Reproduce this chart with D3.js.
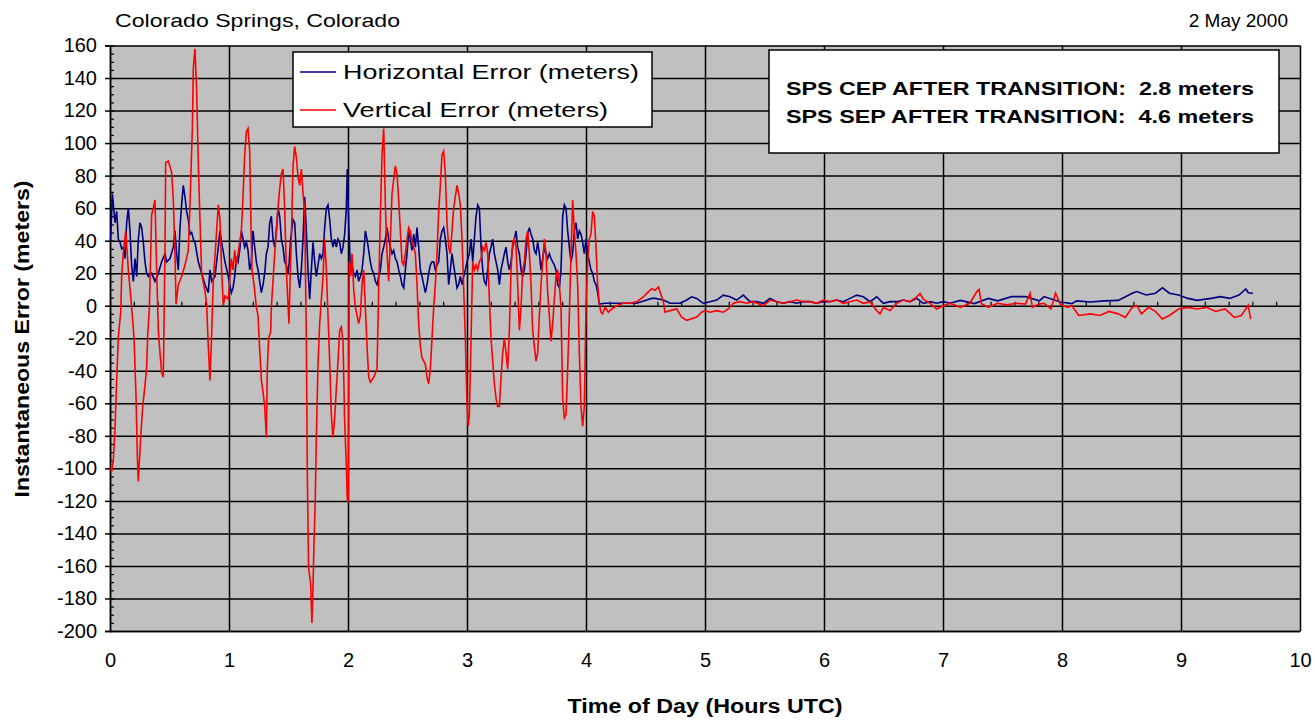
<!DOCTYPE html>
<html><head><meta charset="utf-8">
<script src="https://cdn.jsdelivr.net/npm/d3@7/dist/d3.min.js"></script>
<style>
html,body{margin:0;padding:0;background:#fff;}
svg{display:block;font-family:"Liberation Sans",Arial,sans-serif;}
</style></head>
<body>
<svg id="chart" width="1315" height="720"></svg>
<script>
// ---------------- DATA ----------------
const titleLeft = "Colorado Springs, Colorado";
const titleRight = "2 May 2000";
const xTicks = [0,1,2,3,4,5,6,7,8,9,10];
const yTicks = [160,140,120,100,80,60,40,20,0,-20,-40,-60,-80,-100,-120,-140,-160,-180,-200];
const seriesNames = ["Horizontal Error (meters)", "Vertical Error (meters)"];
const noteLines = ["SPS CEP AFTER TRANSITION:  2.8 meters", "SPS SEP AFTER TRANSITION:  4.6 meters"];

// Horizontal error: time (hours UTC) and value (meters)
const hTime = [0.005,0.020,0.028,0.042,0.056,0.070,0.084,0.098,0.112,0.126,0.140,0.154,0.168,0.182,0.196,0.210,0.224,0.238,0.252,0.266,0.280,0.294,0.308,0.322,0.350,0.378,0.406,0.434,0.462,0.476,0.504,0.532,0.546,0.560,0.574,0.588,0.602,0.616,0.630,0.644,0.658,0.672,0.686,0.700,0.714,0.742,0.770,0.798,0.826,0.840,0.854,0.882,0.910,0.924,0.938,0.966,0.994,
1.006,1.020,1.034,1.048,1.062,1.076,1.090,1.104,1.118,1.132,1.146,1.160,1.174,1.188,1.202,1.216,1.230,1.244,1.258,1.272,1.286,1.300,1.314,1.328,1.342,1.356,1.370,1.384,1.398,1.412,1.426,1.440,1.454,1.468,1.482,1.496,1.504,1.518,1.538,1.552,1.566,1.580,1.594,1.608,1.622,1.636,1.650,1.664,1.678,1.692,1.706,1.720,1.734,1.748,1.762,1.776,1.790,1.804,1.818,1.832,1.846,1.860,1.874,1.888,1.902,1.916,1.930,1.944,1.958,1.972,1.986,1.994,2.006,2.014,
2.020,2.034,2.048,2.062,2.076,2.090,2.104,2.118,2.132,2.146,2.160,2.174,2.188,2.202,2.216,2.230,2.244,2.258,2.272,2.286,2.300,2.314,2.328,2.342,2.356,2.370,2.384,2.398,2.412,2.426,2.440,2.454,2.468,2.482,2.496,2.510,2.524,2.538,2.552,2.566,2.580,2.594,2.608,2.622,2.636,2.650,2.664,2.678,2.692,2.706,2.720,2.734,2.748,2.762,2.776,2.790,2.804,2.818,2.832,2.846,2.860,2.874,2.888,2.902,2.916,2.930,2.944,2.958,2.972,2.986,3.000,
3.020,3.034,3.048,3.062,3.076,3.090,3.104,3.118,3.132,3.146,3.160,3.174,3.188,3.202,3.216,3.230,3.244,3.258,3.272,3.286,3.300,3.314,3.328,3.342,3.356,3.370,3.384,3.398,3.412,3.426,3.440,3.454,3.468,3.482,3.496,3.510,3.524,3.538,3.552,3.566,3.580,3.594,3.608,3.622,3.636,3.650,3.664,3.678,3.692,3.706,3.720,3.734,3.748,3.762,3.776,3.790,3.804,3.818,3.832,3.846,3.860,3.874,3.888,3.902,3.916,3.930,3.944,3.958,3.972,3.986,4.000,4.014,4.028,4.042,4.056,4.070,4.084,4.098,4.112,
4.160,4.258,4.314,4.426,4.510,4.552,4.580,4.650,4.706,4.790,4.846,4.888,4.930,4.986,5.042,5.098,5.154,5.210,5.266,5.322,5.378,5.434,5.490,5.546,5.602,5.658,5.714,5.770,5.826,5.882,5.938,5.994,6.050,6.106,6.162,6.218,6.275,6.331,6.387,6.443,6.499,6.555,6.611,6.667,6.723,6.779,6.835,6.891,6.947,7.003,7.059,
7.147,7.264,7.381,7.459,7.576,7.693,7.810,7.849,7.986,8.083,8.122,8.239,8.356,8.473,8.590,8.629,8.707,8.785,8.844,8.902,8.980,9.058,9.136,9.253,9.331,9.409,9.487,9.545,9.565,9.604];
const hErr = [40,69,62,51,58,41,39,35,36,29,51,60,46,25,15,29,18,41,51,48,39,27,20,18,20,15,20,27,32,27,29,36,46,32,22,48,62,74,67,58,53,44,45,41,39,27,20,13,8,22,15,18,36,46,39,27,18,
13,8,11,18,29,27,34,46,41,36,39,34,22,27,46,36,27,22,15,8,13,20,32,36,51,55,41,36,46,60,55,41,36,27,25,20,25,41,53,51,32,18,11,22,41,67,46,22,4,22,39,27,18,25,32,29,32,48,60,62,53,41,36,41,36,41,39,32,36,44,60,84,50,36,
20,25,20,18,22,15,18,22,32,46,41,34,27,22,20,15,13,18,22,32,36,41,48,41,36,32,34,29,27,22,18,13,11,22,32,46,41,34,44,36,48,36,22,18,13,8,13,20,25,27,27,22,25,27,41,46,48,41,32,13,22,32,25,18,11,13,18,13,18,22,27,
32,41,27,41,55,62,60,36,22,15,13,22,32,36,41,32,27,22,13,22,27,32,36,27,22,27,36,41,46,36,32,22,18,22,32,44,48,44,41,34,32,39,32,22,29,36,32,29,32,29,27,25,22,13,11,22,55,62,60,46,36,27,32,46,51,41,46,44,39,32,41,32,27,22,20,15,13,8,1,
1.5,1.5,1.5,1.5,3.5,4.5,4.5,3.5,1.5,1.5,3.5,5.5,4.5,1.5,2.5,3.5,6.5,5.5,3.5,6.5,2.5,2.5,1.5,4.5,2.5,1.5,2.5,1.5,2.5,2.5,1.5,2.5,2.5,3.5,2.5,4.5,6.5,5.5,2.5,5.5,1.5,2.5,2.5,3.5,2.5,4.5,1.5,2.5,1.5,2.5,1.5,
3.3,1.3,4.5,3,5.6,5.6,3,5.6,2.3,1.3,3,2.3,3,3.3,7.7,8.7,6.6,7.7,11,7.7,6.6,4.5,3.3,4.5,5.6,4.5,6.6,10.3,8,7.7];

// Vertical error: time (hours UTC) and value (meters)
const vTime = [0.005,0.014,0.028,0.042,0.056,0.070,0.090,0.098,0.112,0.132,0.154,0.182,0.202,0.218,0.230,0.238,0.258,0.275,0.294,0.308,0.317,0.331,0.350,0.364,0.378,0.392,0.406,0.420,0.434,0.448,0.462,0.468,0.490,0.518,0.532,0.546,0.555,0.574,0.602,0.630,0.658,0.672,0.692,0.700,0.714,0.728,0.742,0.756,0.770,0.798,0.812,0.826,0.840,0.854,0.868,0.896,0.910,0.924,0.938,0.952,0.966,0.994,1.008,
1.020,1.034,1.048,1.062,1.076,1.104,1.118,1.132,1.146,1.160,1.174,1.182,1.193,1.210,1.230,1.244,1.258,1.272,1.286,1.300,1.314,1.322,1.333,1.350,1.356,1.384,1.412,1.426,1.440,1.454,1.468,1.482,1.496,1.504,1.515,1.524,1.538,1.552,1.566,1.580,1.594,1.608,1.622,1.636,1.650,1.658,1.669,1.686,1.697,1.706,1.714,1.725,1.734,1.748,1.762,1.790,1.804,1.818,1.832,1.846,1.860,1.874,1.888,1.902,1.916,1.930,1.944,1.958,1.972,1.986,1.994,2.003,
2.010,2.020,2.034,2.048,2.062,2.076,2.090,2.104,2.118,2.132,2.160,2.174,2.188,2.216,2.244,2.258,2.272,2.286,2.300,2.314,2.328,2.342,2.356,2.370,2.398,2.412,2.426,2.440,2.454,2.468,2.482,2.496,2.510,2.524,2.538,2.552,2.566,2.580,2.594,2.608,2.622,2.650,2.664,2.678,2.692,2.706,2.720,2.734,2.748,2.762,2.776,2.790,2.804,2.818,2.832,2.846,2.860,2.874,2.888,2.902,2.916,2.930,2.944,2.958,2.972,2.986,3.000,
3.010,3.020,3.034,3.048,3.062,3.076,3.090,3.104,3.118,3.132,3.146,3.160,3.174,3.188,3.202,3.216,3.230,3.244,3.258,3.272,3.286,3.300,3.314,3.328,3.342,3.356,3.370,3.384,3.398,3.412,3.426,3.440,3.454,3.468,3.482,3.496,3.510,3.524,3.538,3.552,3.566,3.580,3.594,3.608,3.622,3.636,3.650,3.664,3.678,3.692,3.706,3.720,3.734,3.748,3.762,3.776,3.790,3.804,3.818,3.832,3.846,3.860,3.874,3.888,3.902,3.916,3.930,3.944,3.958,3.972,3.986,4.000,4.014,4.028,4.042,4.056,4.070,4.084,4.098,4.112,4.126,4.140,
4.160,4.188,4.216,4.258,4.314,4.370,4.426,4.482,4.524,4.552,4.580,4.608,4.627,4.650,4.664,4.706,4.762,4.804,4.846,4.888,4.930,4.972,5.000,5.042,5.098,5.154,5.196,5.238,5.294,5.350,5.406,5.490,5.546,5.602,5.658,5.714,5.770,5.826,5.882,5.938,5.994,6.050,6.106,6.162,6.218,6.275,6.331,6.387,6.443,6.471,6.499,6.555,6.611,6.667,6.723,6.779,6.807,6.835,6.891,6.947,7.003,7.059,
7.147,7.225,7.284,7.303,7.323,7.381,7.459,7.537,7.615,7.693,7.732,7.751,7.810,7.849,7.908,7.946,7.986,8.044,8.083,8.141,8.239,8.317,8.395,8.473,8.532,8.590,8.629,8.668,8.726,8.785,8.844,8.902,8.980,9.058,9.136,9.214,9.292,9.370,9.448,9.507,9.565,9.585];
const vErr = [-100,-102,-95,-76,-46,-19,-4,18,33,46,22,-1,-20,-54,-93,-108,-81,-62,-49,-38,-18,-1,56,60,65,22,-15,-29,-41,-44,34,88,89,82,65,32,1,13,18,25,34,62,109,146,158,133,88,53,20,9,1,-25,-46,-18,15,46,62,53,22,0,6,4,18,
29,22,34,25,32,46,67,93,107,109,95,60,22,13,-1,-6,-27,-46,-53,-62,-81,-39,-20,-16,-1,32,60,72,81,84,60,22,1,-11,20,41,86,98,91,79,74,84,69,58,-20,-102,-161,-171,-195,-173,-147,-119,-81,-36,-11,18,41,22,-6,-34,-67,-81,-69,-51,-34,-15,-13,-22,-71,-98,-119,-121,
27,18,32,10,-1,-6,-11,-6,13,22,-25,-44,-47,-44,-39,11,55,93,109,62,32,15,41,69,86,81,65,46,27,25,32,41,48,46,39,36,32,13,-11,-25,-32,-36,-44,-48,-39,-20,-1,13,32,58,74,93,95,81,51,36,32,46,60,67,74,69,62,41,11,-20,-60,
-74,-67,-20,27,22,25,22,27,29,36,34,39,32,4,-20,-34,-48,-57,-62,-62,-44,-29,-20,-29,-39,-15,22,39,41,36,13,-15,-1,22,27,41,46,32,13,-15,-25,-34,-29,-6,13,27,41,32,8,-6,-22,-11,4,18,22,13,-1,-57,-69,-67,-39,-6,32,65,46,32,13,-29,-62,-74,-62,-1,27,41,44,58,55,36,13,1,-4,-5,
-1,-4,-2,0,1.5,1.5,2.5,5.5,8.5,10.5,9.5,11.5,7.5,2.5,-4,-3,-2,-7,-9,-8,-7,-4,-3,-4,-3,-4,-2,1.5,2.5,1.5,2.5,0,3.5,2.5,1.5,2.5,3.5,2.5,2.5,1.5,3.5,2.5,3.5,1.5,2.5,3.5,1.5,2.5,-3,-5,-1,-3,1.5,3.5,2.5,5.5,7.5,4,1.5,-2,0,1.5,
-1,1.5,8.7,10,1.3,-1,1.5,0.5,1.5,1,7.7,-1,1,1.5,-2,7.7,1,-1,0,-6,-5,-6,-3.5,-5,-7.2,-1,0.2,-5,-1,-3.5,-8.2,-6,-2,-1,-2,-1,-3.5,-2,-7.2,-6,0.2,-8.2];

// ---------------- CHART ----------------
const svg = d3.select("#chart");
const L = 110, R = 1300, T = 45.5, B = 631;
const x = d3.scaleLinear().domain([0,10]).range([L,R]);
const y = d3.scaleLinear().domain([-200,160]).range([B,T]);
const plainNum = d => String(d);   // hyphen-minus, as in the original

// plot area
svg.append("rect").attr("x",L).attr("y",T).attr("width",R-L).attr("height",B-T).attr("fill","#c0c0c0");

// gridlines via axes
const gy = svg.append("g").attr("transform",`translate(${L},0)`)
  .call(d3.axisRight(y).tickValues(yTicks).tickSize(R-L).tickFormat(""));
gy.select(".domain").remove();
gy.selectAll("line").attr("stroke","#000").attr("stroke-width",1.5);

const gx = svg.append("g").attr("transform",`translate(0,${T})`)
  .call(d3.axisBottom(x).tickValues(xTicks).tickSize(B-T).tickFormat(""));
gx.select(".domain").remove();
gx.selectAll("line").attr("stroke","#000").attr("stroke-width",1.5);

// y axis with labels (major ticks outside)
const yAxis = svg.append("g").attr("transform",`translate(${L},0)`)
  .call(d3.axisLeft(y).tickValues(yTicks).tickSize(5).tickPadding(8).tickFormat(plainNum));
yAxis.select(".domain").attr("stroke","#000").attr("stroke-width",1.5);
yAxis.selectAll("line").attr("stroke","#000").attr("stroke-width",1.5);
yAxis.selectAll("text").attr("font-size",20).attr("fill","#000")
  .attr("font-family","'Liberation Sans',Arial,sans-serif");

// y minor ticks (inside)
const yMinor = svg.append("g").attr("transform",`translate(${L},0)`)
  .call(d3.axisRight(y).ticks(90).tickSize(4).tickFormat(""));
yMinor.select(".domain").remove();
yMinor.selectAll("line").attr("stroke","#000").attr("stroke-width",1.2);

// x minor ticks along zero line
const xMinor = svg.append("g").attr("transform",`translate(0,${y(0)})`)
  .call(d3.axisTop(x).ticks(60).tickSize(4).tickFormat(""));
xMinor.select(".domain").remove();
xMinor.selectAll("line").attr("stroke","#000").attr("stroke-width",1.2);

// x labels at bottom
const xAxis = svg.append("g").attr("transform",`translate(0,${B})`)
  .call(d3.axisBottom(x).tickValues(xTicks).tickSize(0).tickPadding(22).tickFormat(plainNum));
xAxis.select(".domain").attr("stroke","#000").attr("stroke-width",1.5);
xAxis.selectAll("text").attr("font-size",20).attr("fill","#000")
  .attr("font-family","'Liberation Sans',Arial,sans-serif");

// series
const hData = hTime.map((t,i)=>({t, v:hErr[i]}));
const vData = vTime.map((t,i)=>({t, v:vErr[i]}));
const line = d3.line().x(d=>x(d.t)).y(d=>y(d.v));
svg.append("path").datum(hData).attr("d",line).attr("fill","none").attr("stroke","#000080").attr("stroke-width",1.6);
svg.append("path").datum(vData).attr("d",line).attr("fill","none").attr("stroke","#ff0000").attr("stroke-width",1.6);

// legend
const colors = ["#000080","#ff0000"];
const lg = svg.append("g");
lg.append("rect").attr("x",293).attr("y",52).attr("width",359).attr("height",75)
  .attr("fill","#fff").attr("stroke","#000").attr("stroke-width",1.5);
seriesNames.forEach((n,i)=>{
  const cy = 72 + i*38;
  lg.append("line").attr("x1",300).attr("x2",336).attr("y1",cy).attr("y2",cy)
    .attr("stroke",colors[i]).attr("stroke-width",1.6);
  lg.append("text").attr("x",343).attr("y",cy+7).attr("font-size",21).attr("fill","#000")
    .attr("textLength", i===0 ? 296 : 265).attr("lengthAdjust","spacingAndGlyphs").text(n);
});

// annotation
const an = svg.append("g");
an.append("rect").attr("x",769).attr("y",50).attr("width",510).attr("height",103)
  .attr("fill","#fff").attr("stroke","#000").attr("stroke-width",1.5);
noteLines.forEach((s,i)=>{
  an.append("text").attr("x",786).attr("y",95+i*28).attr("font-size",19).attr("font-weight","bold")
    .attr("fill","#000").style("white-space","pre").attr("xml:space","preserve")
    .attr("textLength",468).attr("lengthAdjust","spacingAndGlyphs").text(s);
});

// titles
svg.append("text").attr("x",115).attr("y",27).attr("font-size",19).attr("fill","#000")
  .attr("textLength",285).attr("lengthAdjust","spacingAndGlyphs").text(titleLeft);
svg.append("text").attr("x",1288).attr("y",27).attr("font-size",19).attr("fill","#000")
  .attr("text-anchor","end").text(titleRight);

svg.append("text").attr("x",705).attr("y",713).attr("font-size",20).attr("font-weight","bold")
  .attr("text-anchor","middle").attr("fill","#000")
  .attr("font-family","'Liberation Sans Narrow','Liberation Sans',Arial,sans-serif")
  .attr("textLength",275).attr("lengthAdjust","spacingAndGlyphs").text("Time of Day (Hours UTC)");
svg.append("text").attr("transform","translate(29,339) rotate(-90)").attr("font-size",20).attr("font-weight","bold")
  .attr("text-anchor","middle").attr("fill","#000")
  .attr("font-family","'Liberation Sans Narrow','Liberation Sans',Arial,sans-serif")
  .attr("textLength",317).attr("lengthAdjust","spacingAndGlyphs").text("Instantaneous Error (meters)");
</script>
</body></html>
